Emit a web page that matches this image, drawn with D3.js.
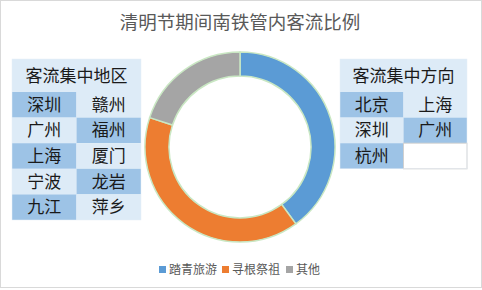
<!DOCTYPE html>
<html lang="zh">
<head>
<meta charset="UTF-8">
<title>清明节期间南铁管内客流比例</title>
<script src="https://d3js.org/d3.v7.min.js"></script>
<style>
  body { margin: 0; background: #fff; }
  svg { display: block; font-family: "Noto Sans CJK SC", sans-serif; }
</style>
</head>
<body>
<svg id="chart" width="482" height="290"></svg>
<script>
// data
const categories = ["踏青旅游", "寻根祭祖", "其他"];
const values = [40, 40, 20];
const colors = ["#5b9bd5", "#ed7d31", "#a5a5a5"];

const leftTitle = "客流集中地区";
const leftCities = [["深圳", "赣州"], ["广州", "福州"], ["上海", "厦门"], ["宁波", "龙岩"], ["九江", "萍乡"]];
const rightTitle = "客流集中方向";
const rightCities = [["北京", "上海"], ["深圳", "广州"], ["杭州", ""]];

const width = 482, height = 290;
const svg = d3.select("#chart");

// outer frame
svg.append("rect")
  .attr("x", 0.5).attr("y", 0.5)
  .attr("width", width - 1).attr("height", height - 3)
  .attr("fill", "#fff")
  .attr("stroke", "#d9d9d9");

// title
svg.append("text")
  .attr("x", 240).attr("y", 29)
  .attr("text-anchor", "middle")
  .attr("font-size", 18.5)
  .attr("fill", "#595959")
  .text("清明节期间南铁管内客流比例");

// donut
const pie = d3.pie().sort(null).value(d => d);
const arc = d3.arc().innerRadius(71).outerRadius(95);
const g = svg.append("g").attr("transform", "translate(240,147)");
g.selectAll("path")
  .data(pie(values))
  .join("path")
  .attr("d", arc)
  .attr("fill", (d, i) => colors[i])
  .attr("stroke", "#c9e7c3")
  .attr("stroke-width", 1.5);

// tables
const dark = "#9dc3e6", light = "#ddebf7";
function drawTable(x0, x1, title, rows) {
  const headerH = 33, rowH = 25.6, top = 59;
  const t = svg.append("g");
  const xs = d3.scaleBand().domain([0, 1]).range([x0, x1]);
  const ys = d3.scaleBand().domain(d3.range(rows.length))
    .range([top + headerH, top + headerH + rowH * rows.length]);

  t.append("rect")
    .attr("x", x0).attr("y", top)
    .attr("width", x1 - x0).attr("height", headerH)
    .attr("fill", light);
  t.append("text")
    .attr("x", (x0 + x1) / 2).attr("y", top + headerH / 2 + 6)
    .attr("text-anchor", "middle")
    .attr("font-size", 17)
    .attr("fill", "#1a1a1a")
    .text(title);

  rows.forEach((row, r) => {
    row.forEach((name, c) => {
      const fill = name === "" ? "#fff" : ((r + c) % 2 === 0 ? dark : light);
      t.append("rect")
        .attr("x", xs(c)).attr("y", ys(r))
        .attr("width", xs.bandwidth()).attr("height", ys.bandwidth())
        .attr("fill", fill)
        .attr("stroke", name === "" ? "#d0d0d0" : "none");
      t.append("text")
        .attr("x", xs(c) + xs.bandwidth() / 2).attr("y", ys(r) + ys.bandwidth() / 2 + 6)
        .attr("text-anchor", "middle")
        .attr("font-size", 17)
        .attr("fill", "#1a1a1a")
        .text(name);
    });
  });
  // thin separators between cells
  t.append("rect")
    .attr("x", x0).attr("y", top)
    .attr("width", x1 - x0).attr("height", headerH + rowH * rows.length)
    .attr("fill", "none").attr("stroke", "#e6eef7").attr("stroke-width", 0.5);
}
drawTable(12, 141, leftTitle, leftCities);
drawTable(340, 467, rightTitle, rightCities);

// legend
const legend = svg.append("g").attr("font-size", 12).attr("fill", "#595959");
const legendX = [159, 222, 286];
categories.forEach((c, i) => {
  const item = legend.append("g").attr("transform", `translate(${legendX[i]},270)`);
  item.append("rect")
    .attr("x", 0).attr("y", -4).attr("width", 7).attr("height", 7)
    .attr("fill", colors[i]);
  item.append("text")
    .attr("x", 10).attr("y", 4)
    .text(c);
});
</script>
</body>
</html>
